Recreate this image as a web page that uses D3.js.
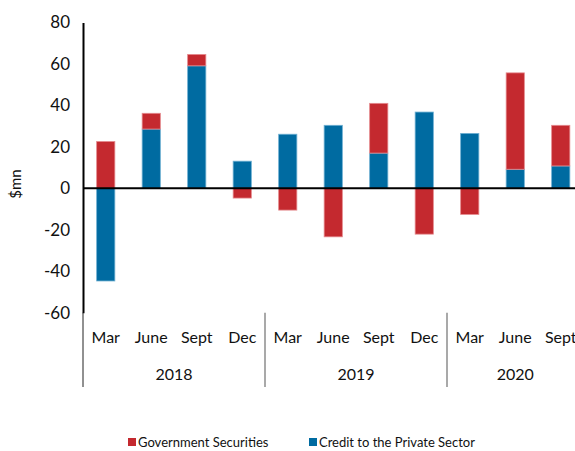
<!DOCTYPE html>
<html>
<head>
<meta charset="utf-8">
<script src="https://cdn.jsdelivr.net/npm/d3@7"></script>
<style>
  html, body { margin: 0; padding: 0; background: #fff; }
  svg { display: block; font-family: Lato, "Open Sans", sans-serif; }
</style>
</head>
<body>
<svg id="chart" width="575" height="451"></svg>
<script>
// Quarterly categories, grouped by year
const quarters = ["Mar", "June", "Sept", "Dec", "Mar", "June", "Sept", "Dec", "Mar", "June", "Sept"];
const years = ["2018", "2019", "2020"];
const yearOfQuarter = [0, 0, 0, 0, 1, 1, 1, 1, 2, 2, 2];

// Contributions, $mn
const creditPrivate = [-44.7, 28.6, 59.1, 13.1, 26.1, 30.4, 17.0, 36.8, 26.5, 9.2, 10.8];
const govSecurities = [22.6, 7.6, 5.5, -4.7, -10.5, -23.4, 24.0, -22.1, -12.6, 46.5, 19.6];

const yTicks = [-60, -40, -20, 0, 20, 40, 60, 80];

const seriesNames = ["Government Securities", "Credit to the Private Sector"];
const colors = { gov: "#c4292f", credit: "#006ba1" };
const strokes = { gov: "#e58a8e", credit: "#6fb0d2" };

const svg = d3.select("#chart");
const margin = { left: 83, top: 22 };
const bandW = 45.5;
const plotW = bandW * quarters.length;

const x = d3.scaleBand()
  .domain(d3.range(quarters.length))
  .range([margin.left, margin.left + plotW])
  .paddingInner(0.6)
  .paddingOuter(0.3);

const y = d3.scaleLinear().domain([-60, 80]).range([312.7, 22.5]);

// Stack positives upward and negatives downward from zero
const rows = quarters.map((q, i) => {
  const parts = [
    { key: "credit", v: creditPrivate[i] },
    { key: "gov", v: govSecurities[i] }
  ];
  let pos = 0, neg = 0;
  return parts.map(p => {
    let y0, y1;
    if (p.v >= 0) { y0 = pos; y1 = pos + p.v; pos = y1; }
    else { y0 = neg; y1 = neg + p.v; neg = y1; }
    return { i, key: p.key, y0, y1 };
  });
}).flat();

svg.append("g").selectAll("rect")
  .data(rows)
  .join("rect")
  .attr("x", d => x(d.i))
  .attr("width", x.bandwidth())
  .attr("y", d => y(Math.max(d.y0, d.y1)))
  .attr("height", d => Math.abs(y(d.y0) - y(d.y1)))
  .attr("fill", d => colors[d.key])
  .attr("stroke", d => strokes[d.key])
  .attr("stroke-width", 0.8);

// Y axis with tick labels
const yAxis = d3.axisLeft(y).tickValues(yTicks).tickSize(0).tickPadding(13)
  .tickFormat(d => String(d));
const gy = svg.append("g").attr("transform", `translate(${margin.left},0)`).call(yAxis);
gy.select(".domain").attr("stroke", "#000").attr("stroke-width", 2);
gy.selectAll("text").attr("font-size", 17).attr("fill", "#111")
  .attr("font-family", "Lato, 'Open Sans', sans-serif");

// Zero line
svg.append("line")
  .attr("x1", margin.left).attr("x2", 575)
  .attr("y1", y(0)).attr("y2", y(0))
  .attr("stroke", "#000").attr("stroke-width", 2);

// Category labels (months, then years)
const labelTop = 312.7, labelBottom = 387;
svg.append("g").selectAll("text")
  .data(quarters)
  .join("text")
  .attr("x", (d, i) => x(i) + x.bandwidth() / 2)
  .attr("y", 343)
  .attr("text-anchor", "middle")
  .attr("font-size", 16)
  .attr("fill", "#111")
  .text(d => d);

const yearExtent = years.map((yr, k) => {
  const idx = d3.range(quarters.length).filter(i => yearOfQuarter[i] === k);
  return { yr, start: margin.left + d3.min(idx) * bandW, end: margin.left + (d3.max(idx) + 1) * bandW };
});

svg.append("g").selectAll("text")
  .data(yearExtent)
  .join("text")
  .attr("x", d => (d.start + d.end) / 2)
  .attr("y", 380)
  .attr("text-anchor", "middle")
  .attr("font-size", 16)
  .attr("fill", "#111")
  .text(d => d.yr);

// Group dividers
svg.append("line")
  .attr("x1", margin.left).attr("x2", margin.left)
  .attr("y1", labelTop).attr("y2", labelBottom)
  .attr("stroke", "#222").attr("stroke-width", 1);
svg.append("g").selectAll("line")
  .data(yearExtent.slice(1))
  .join("line")
  .attr("x1", d => d.start).attr("x2", d => d.start)
  .attr("y1", labelTop).attr("y2", labelBottom)
  .attr("stroke", "#8c8c8c").attr("stroke-width", 1.5);

// Y axis title
svg.append("text")
  .attr("transform", "translate(21,184) rotate(-90)")
  .attr("text-anchor", "middle")
  .attr("font-size", 15)
  .attr("fill", "#111")
  .text("$mn");

// Legend
const legend = [
  { name: seriesNames[0], key: "gov", x: 128 },
  { name: seriesNames[1], key: "credit", x: 309 }
];
const lg = svg.append("g").selectAll("g").data(legend).join("g")
  .attr("transform", d => `translate(${d.x},438)`);
lg.append("rect").attr("width", 8).attr("height", 8).attr("fill", d => colors[d.key]);
lg.append("text").attr("x", 10).attr("y", 8.5)
  .attr("font-size", 13).attr("fill", "#111").text(d => d.name);
</script>
</body>
</html>
